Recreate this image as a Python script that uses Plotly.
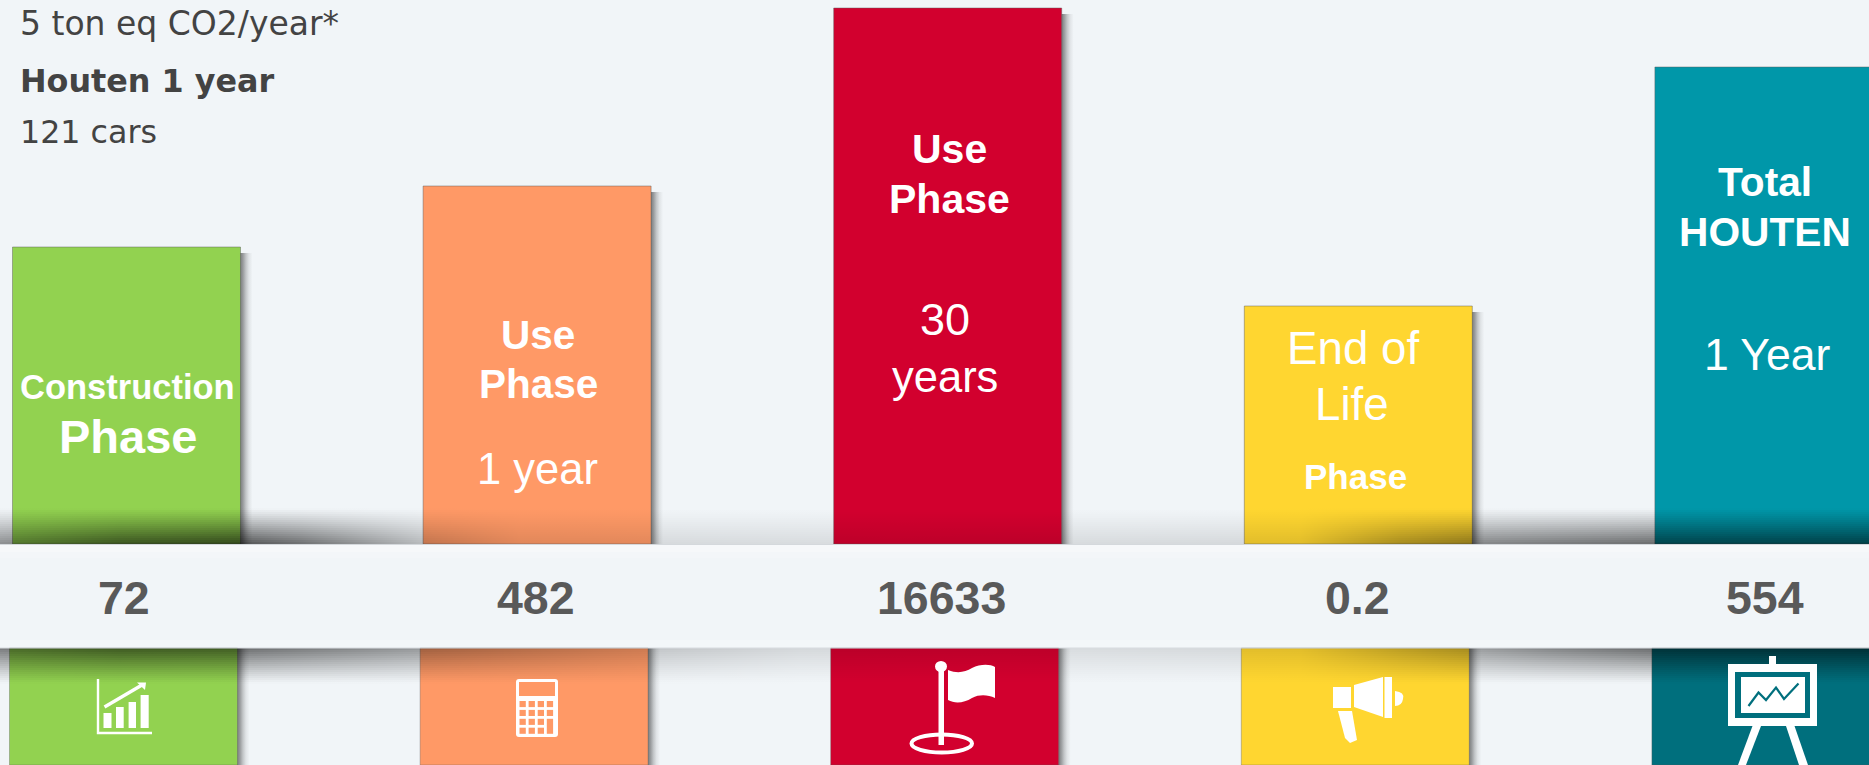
import plotly.graph_objects as go

# ---- data ----
categories = ["Construction", "Use 1 year", "Use 30 years", "End of Life", "Total Houten"]
values = ["72", "482", "16633", "0.2", "554"]
bar_heights = [297, 358, 536, 238, 477]
upper_colors = ["#92d250", "#ff9966", "#d2002e", "#ffd630", "#0097a9"]
lower_colors = ["#92d250", "#ff9966", "#d2002e", "#ffd630", "#006f7d"]
header_lines = ["5 ton eq CO2/year*", "<b>Houten 1 year</b>", "121 cars"]

W, H = 1869, 765
BASE, BAND_BOTTOM = 544, 648
C0, STEP, BW = 126.5, 410.6, 228
xr = [-C0 / STEP, (W - C0) / STEP]
LOW_SHIFT = 3 / STEP
WHITE = "#ffffff"
BG = "#f1f5f8"

fig = go.Figure()
fig.add_bar(x=categories, y=bar_heights, base=0, marker=dict(color=upper_colors, line=dict(color="rgba(90,90,90,0.45)", width=1)),
            hoverinfo="skip", showlegend=False)
fig.add_bar(x=categories, y=[H - BAND_BOTTOM] * 5, base=BASE - H, xaxis="x2",
            marker=dict(color=lower_colors, line=dict(color="rgba(90,90,90,0.35)", width=1)),
            hoverinfo="skip", showlegend=False)


def grad_poly(x0, x1, y0, y1, stops):
    fig.add_scatter(x=[x0, x1, x1, x0, x0], y=[y0, y0, y1, y1, y0], xaxis="x3", yaxis="y3",
                    mode="none", fill="toself", hoverinfo="skip", showlegend=False,
                    fillgradient=dict(type="horizontal", colorscale=stops))


# right-hand drop shadows of the tiles
def side_stops():
    return [[t, f"rgba(30,30,30,{a})"] for t, a in [(0, .55), (.2, .42), (.45, .22), (.7, .08), (1, 0)]]


for i, h in enumerate(bar_heights):
    right = C0 + STEP * i + BW / 2
    if right < W:
        grad_poly(right, right + 12, BASE - h + 6, BASE, side_stops())
        grad_poly(right - 3, right + 9, BAND_BOTTOM, H, side_stops())

# soft shadows above and below the band
above = [(0, .42), (120, .6), (241, .66), (300, .55), (420, .25), (520, .12), (900, .1), (1300, .12),
         (1400, .35), (1471, .45), (1550, .5), (1650, .56), (1869, .58)]
below = [(0, .5), (120, .58), (237, .56), (300, .5), (420, .38), (650, .2), (800, .12), (1000, .1),
         (1300, .12), (1400, .27), (1550, .46), (1650, .56), (1869, .58)]
ROWS, ROW_H = 18, 2
for r in range(ROWS):
    f = (1 - (r + .5) / ROWS) ** 1.15
    grad_poly(0, W, BASE - (r + 1) * ROW_H, BASE - r * ROW_H,
              [[x / W, f"rgba(0,0,0,{a * f:.3f})"] for x, a in above])
    grad_poly(0, W, BAND_BOTTOM + r * ROW_H, BAND_BOTTOM + (r + 1) * ROW_H,
              [[x / W, f"rgba(0,0,0,{a * f:.3f})"] for x, a in below])

shapes = []


def S(**k):
    k.setdefault("xref", "x3")
    k.setdefault("yref", "y3")
    k.setdefault("layer", "above")
    shapes.append(k)


def rect(x0, y0, x1, y1, fill=WHITE):
    S(type="rect", x0=x0, y0=y0, x1=x1, y1=y1, fillcolor=fill, line_width=0)


def poly(pts, fill=WHITE):
    S(type="path", path="M" + " L".join(f"{x},{y}" for x, y in pts) + " Z", fillcolor=fill, line_width=0)


def pline(pts, width, color=WHITE):
    S(type="path", path="M" + " L".join(f"{x},{y}" for x, y in pts), line=dict(color=color, width=width))


# band edges and its slight sheen
S(type="line", x0=0, x1=W, y0=BASE + .5, y1=BASE + .5, line=dict(color="#d4d8dc", width=1))
S(type="line", x0=0, x1=W, y0=BAND_BOTTOM, y1=BAND_BOTTOM, line=dict(color="#d8dce0", width=1))
rect(0, 545, W, 552, "rgba(255,255,255,0.35)")
rect(0, 552, W, 558, "rgba(255,255,255,0.15)")
rect(0, 640, W, 647, "rgba(255,255,255,0.2)")

# chart icon
pline([(98, 679), (98, 733), (152, 733)], 2.4)
for x0, x1, top in [(103.5, 111.5, 713), (116, 123.7, 707), (128.6, 136, 702), (140.6, 148.7, 695)]:
    rect(x0, top, x1, 728)
pline([(104.5, 707), (142, 685)], 3.4)
poly([(137, 682.5), (146, 682.5), (145, 690)])

# calculator icon
OR = "#ff9966"
S(type="path", path="M519,679 L555,679 Q558,679 558,682 L558,734 Q558,737 555,737 L519,737 Q516,737 516,734 L516,682 Q516,679 519,679 Z",
  fillcolor=WHITE, line_width=0)
rect(519, 682, 555, 696, OR)
for c in range(4):
    for q in range(4):
        x0 = 519.5 + c * 9.1
        y0 = 701 + q * 8.9
        if c == 3 and q == 3:
            continue
        if c == 3 and q == 2:
            rect(x0, y0, x0 + 6.3, y0 + 15, OR)
            continue
        rect(x0, y0, x0 + 6.3, y0 + 6.1, OR)

# flag icon
rect(938.5, 665, 944, 745)
S(type="circle", x0=935, x1=947, y0=661, y1=672, fillcolor=WHITE, line_width=0)
S(type="path", path="M948,670 C958,674 965,672 972,668 C980,664 990,664 995,667 L995,698 C988,695 980,694 972,698 C964,703 955,704 948,700 Z",
  fillcolor=WHITE, line_width=0)
S(type="circle", x0=911.5, x1=972, y0=734.5, y1=752.5, line=dict(color=WHITE, width=4), fillcolor="rgba(0,0,0,0)")

# megaphone icon
rect(1333, 687, 1351, 708)
poly([(1354, 685), (1383, 677), (1383, 717), (1354, 707)])
rect(1384.5, 677, 1392, 718)
S(type="path", path="M1395,691 Q1405,692 1403,699 Q1402,706 1395,706 Z", fillcolor=WHITE, line_width=0)
poly([(1338, 711), (1352, 711), (1357, 740), (1350, 743), (1345, 738)])

# easel icon
rect(1769, 656, 1776, 665)
rect(1728, 664, 1817, 726)
rect(1735, 672, 1810, 718, "#006f7d")
rect(1741, 677, 1805, 713)
pline([(1748.5, 706), (1758.5, 692.5), (1766, 700), (1776, 687.5), (1784, 699), (1798.5, 683.5)], 2.2, "#006f7d")
poly([(1752.5, 726), (1761, 726), (1746, 765), (1738, 765)])
poly([(1786, 726), (1794.5, 726), (1808, 765), (1799, 765)])

ann = []


def T(x, y, text, size, color=WHITE, family="Liberation Sans", anchor="center"):
    ann.append(dict(x=x, y=y, xref="x3", yref="y3", text=text, showarrow=False, xanchor=anchor, yanchor="middle",
                    font=dict(family=family, size=size, color=color)))


for y, line, s in zip([23.3, 80.3, 132.3], header_lines, [33, 31.8, 31.7]):
    T(17.5, y, line, s, "#434343", "DejaVu Sans", "left")

label_specs = [
    (127.5, 387, "<b>Construction</b>", 34.5), (127.5, 436, "<b>Phase</b>", 47),
    (538, 335, "<b>Use</b>", 40.5), (538, 384, "<b>Phase</b>", 40.5), (537, 469, "1 year", 43.5),
    (949, 149, "<b>Use</b>", 41), (949, 199, "<b>Phase</b>", 41), (945, 319, "30", 45), (945, 377, "years", 43.5),
    (1353, 348, "End of", 45.7), (1352, 404, "Life", 45.7), (1355, 476, "<b>Phase</b>", 35),
    (1765, 182, "<b>Total</b>", 40.7), (1765, 232, "<b>HOUTEN</b>", 40.7), (1767, 354, "1 Year", 44.5),
]
for x, y, t, s in label_specs:
    T(x, y, t, s)

for v, x in zip(values, [123.5, 536, 941.5, 1357, 1765]):
    T(x, 598, f"<b>{v}</b>", 46.5, "#595959")

hidden = dict(visible=False, fixedrange=True)
fig.update_layout(
    width=W, height=H, margin=dict(l=0, r=0, t=0, b=0), autosize=False,
    paper_bgcolor=BG, plot_bgcolor=BG, barmode="overlay", bargap=1 - BW / STEP,
    xaxis=dict(type="category", categoryorder="array", categoryarray=categories, range=xr, **hidden),
    xaxis2=dict(type="category", categoryorder="array", categoryarray=categories, overlaying="x",
                range=[xr[0] + LOW_SHIFT, xr[1] + LOW_SHIFT], **hidden),
    yaxis=dict(range=[BASE - H, BASE], **hidden),
    xaxis3=dict(range=[0, W], overlaying="x", **hidden),
    yaxis3=dict(range=[H, 0], overlaying="y", **hidden),
    shapes=shapes, annotations=ann, showlegend=False,
)
fig.write_html("out.html", post_script="document.body.style.margin='0';document.body.style.overflow='hidden';",
               config=dict(displayModeBar=False))
